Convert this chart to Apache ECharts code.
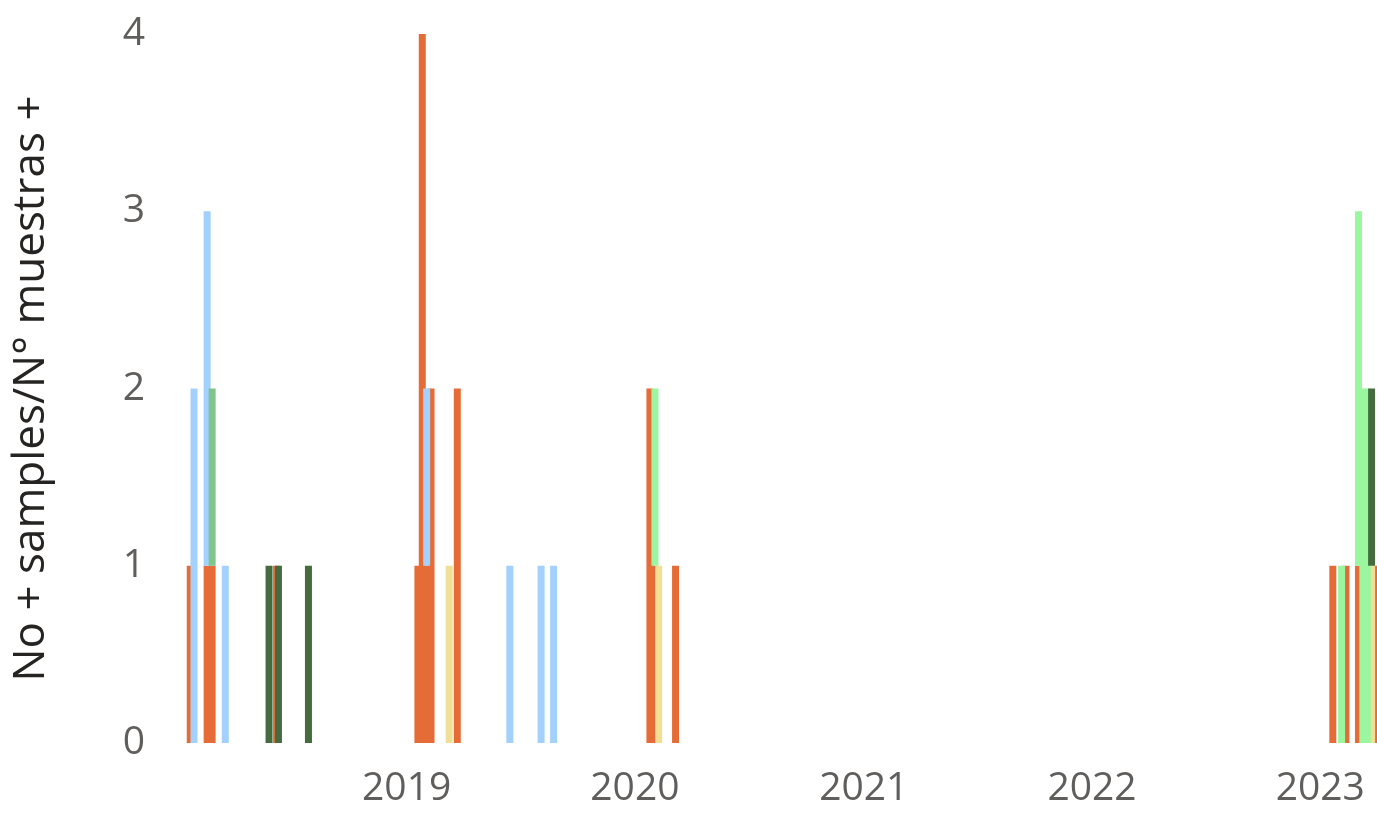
<!DOCTYPE html>
<html>
<head>
<meta charset="utf-8">
<script src="https://cdn.jsdelivr.net/npm/echarts@6/dist/echarts.min.js"></script>
<style>
html,body{margin:0;padding:0;background:#fff;}
#chart{width:1377px;height:815px;}
</style>
</head>
<body>
<div id="chart"></div>
<script>
// ---- data (date, samples) per legend colour ----
const orangeData = [
  ['2018-01-20',1],['2018-02-16',1],['2018-02-24',1],['2018-06-07',1],
  ['2019-01-19',1],['2019-01-26',4],['2019-02-02',1],['2019-02-09',2],['2019-03-23',2],
  ['2020-01-25',2],['2020-02-02',1],['2020-03-06',1],
  ['2023-01-21',1],['2023-02-11',1],['2023-03-03',1],['2023-04-01',1]
];
const blueData = [
  ['2018-01-26',2],['2018-02-16',2],['2018-03-17',1],
  ['2019-02-02',1],['2019-06-15',1],['2019-08-04',1],['2019-08-24',1]
];
const greenData = [['2018-02-24',1]];
const yellowData = [['2019-03-10',1],['2020-02-08',1],['2023-03-24',1]];
const lightGreenData = [['2020-02-02',1],['2023-02-04',1],['2023-03-03',2],['2023-03-10',2],['2023-03-17',2]];
const darkGreenData = [['2018-05-26',1],['2018-06-10',1],['2018-07-28',1],['2023-03-24',1]];
const yTicks = [0,1,2,3,4];
const yAxisTitle = 'No + samples/N\u00B0 muestras +';

const seriesDefs = [
  {name:'A', data:orangeData, color:'#E66C37'},
  {name:'B', data:blueData, color:'#A3D1FD'},
  {name:'C', data:greenData, color:'#80C58B'},
  {name:'D', data:yellowData, color:'#EFE096'},
  {name:'E', data:lightGreenData, color:'#9AF7A0'},
  {name:'F', data:darkGreenData, color:'#466B3E'}
];

// align all series on the same list of dates so stacking is per date
const allDates = Array.from(new Set(seriesDefs.flatMap(s => s.data.map(d => d[0])))).sort();
function aligned(data){
  const m = new Map(data);
  return allDates.map(d => [d, m.has(d) ? m.get(d) : 0]);
}

const DAY = 86400000;
const xMin = new Date(2018,0,2).getTime();
const xMax = new Date(2019,0,1).getTime() + 1546.05*DAY;

const chart = echarts.init(document.getElementById('chart'), null, {renderer:'canvas'});
chart.setOption({
  backgroundColor:'#ffffff',
  animation:false,
  textStyle:{fontFamily:'Open Sans'},
  grid:{left:175.5, right:0, top:34, bottom:72, containLabel:false},
  xAxis:{
    type:'time', min:xMin, max:xMax,
    axisLine:{show:false}, axisTick:{show:false}, splitLine:{show:false},
    axisLabel:{
      margin:26, fontSize:39, color:'#605E5C', fontFamily:'Open Sans',
      showMinLabel:false,
      formatter:function(v){
        if (v < xMin) return '';
        const d = new Date(v);
        return (d.getMonth()===0 && d.getDate()===1) ? String(d.getFullYear()) : '';
      }
    }
  },
  yAxis:{
    type:'value', min:yTicks[0], max:yTicks[yTicks.length-1], interval:1,
    name:yAxisTitle, nameLocation:'middle', nameGap:122,
    nameTextStyle:{fontSize:44, color:'#252423', fontFamily:'Open Sans'},
    axisLine:{show:false}, axisTick:{show:false}, splitLine:{show:false},
    axisLabel:{margin:30.5, fontSize:39, color:'#605E5C', fontFamily:'Open Sans'}
  },
  series: seriesDefs.map(s => ({
    name:s.name, type:'bar', stack:'total', barWidth:7,
    data:aligned(s.data), itemStyle:{color:s.color}, clip:true
  }))
});
</script>
</body>
</html>
